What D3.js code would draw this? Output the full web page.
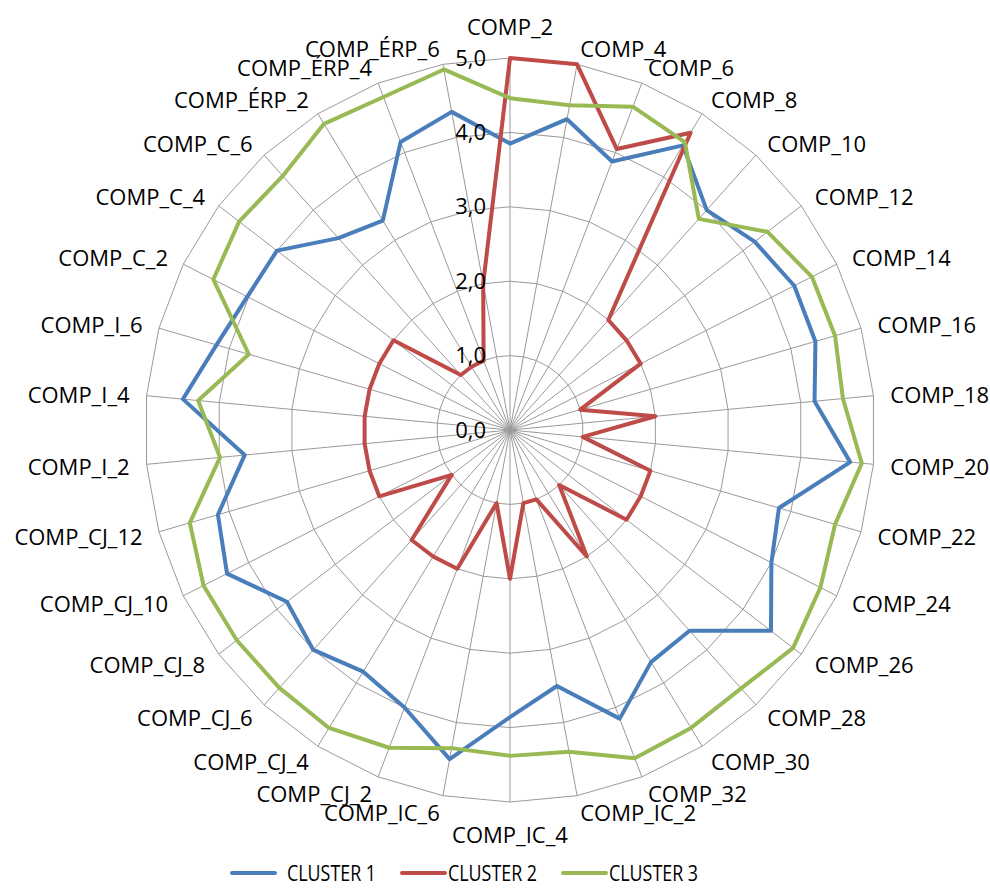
<!DOCTYPE html>
<html>
<head>
<meta charset="utf-8">
<script src="https://cdn.jsdelivr.net/npm/d3@7"></script>
<style>
  body { margin: 0; background: #fff; }
  text { font-family: "Open Sans", sans-serif; fill: #000; }
</style>
</head>
<body>
<svg id="chart"></svg>
<script>
const categories = ["COMP_2","COMP_4","COMP_6","COMP_8","COMP_10","COMP_12","COMP_14","COMP_16","COMP_18","COMP_20","COMP_22","COMP_24","COMP_26","COMP_28","COMP_30","COMP_32","COMP_IC_2","COMP_IC_4","COMP_IC_6","COMP_CJ_2","COMP_CJ_4","COMP_CJ_6","COMP_CJ_8","COMP_CJ_10","COMP_CJ_12","COMP_I_2","COMP_I_4","COMP_I_6","COMP_C_2","COMP_C_4","COMP_C_6","COMP_ÉRP_2","COMP_ÉRP_4","COMP_ÉRP_6"];

const cluster1 = [3.85,4.25,3.87,4.50,4.00,4.20,4.35,4.35,4.19,4.68,3.83,4.00,4.48,3.65,3.67,4.16,3.50,3.86,4.50,4.00,3.82,4.00,3.83,4.33,4.16,3.65,4.50,4.18,4.02,4.00,3.49,3.31,4.15,4.35];
const cluster2 = [5.00,5.00,4.05,4.70,2.00,2.00,2.00,1.00,2.00,1.00,2.00,2.00,2.00,1.00,2.00,1.00,1.00,2.00,1.00,2.00,2.00,2.00,1.00,2.00,2.00,2.00,2.00,2.00,2.00,2.00,1.00,1.00,1.00,2.00];
const cluster3 = [4.46,4.44,4.66,4.55,3.84,4.42,4.62,4.63,4.58,4.84,4.63,4.75,4.86,4.70,4.71,4.73,4.40,4.38,4.35,4.58,4.71,4.69,4.69,4.69,4.56,3.99,4.29,3.72,4.54,4.65,4.62,4.84,4.80,4.93];

const seriesNames = ["CLUSTER 1", "CLUSTER 2", "CLUSTER 3"];
const seriesColors = ["#4a7ebb", "#be4b48", "#98b954"];
const valueTicks = [0, 1, 2, 3, 4, 5];

const width = 990, height = 888;
const cx = 510, cy = 430;
const rx = 365, ry = 372;   // picture is a touch taller than wide
const fontSize = 22;

const svg = d3.select("#chart").attr("width", width).attr("height", height);

const angle = d3.scaleLinear().domain([0, categories.length]).range([0, 2 * Math.PI]);
const radius = d3.scaleLinear().domain([0, 5]).range([0, rx]);
const yStretch = ry / rx;

const plot = svg.append("g")
  .attr("transform", `translate(${cx},${cy}) scale(1,${yStretch})`);

const radial = d3.lineRadial()
  .angle((d, i) => angle(i))
  .radius(d => radius(d))
  .curve(d3.curveLinearClosed);

// rings
plot.selectAll(".ring")
  .data(valueTicks.filter(v => v > 0))
  .enter().append("path")
  .attr("class", "ring")
  .attr("d", v => radial(categories.map(() => v)))
  .attr("fill", "none")
  .attr("stroke", "#9a9a9a")
  .attr("stroke-width", 1)
  .attr("vector-effect", "non-scaling-stroke");

// spokes
plot.selectAll(".spoke")
  .data(categories)
  .enter().append("line")
  .attr("class", "spoke")
  .attr("x1", 0).attr("y1", 0)
  .attr("x2", (d, i) => radius(5) * Math.sin(angle(i)))
  .attr("y2", (d, i) => -radius(5) * Math.cos(angle(i)))
  .attr("stroke", "#9a9a9a")
  .attr("stroke-width", 1)
  .attr("vector-effect", "non-scaling-stroke");

// series
const series = [cluster1, cluster2, cluster3];
plot.selectAll(".series")
  .data(series)
  .enter().append("path")
  .attr("class", "series")
  .attr("d", d => radial(d))
  .attr("fill", "none")
  .attr("stroke", (d, i) => seriesColors[i])
  .attr("stroke-width", 4)
  .attr("stroke-linejoin", "round")
  .attr("vector-effect", "non-scaling-stroke");

// value axis labels
const fmt = d3.formatLocale({ decimal: ",", thousands: ".", grouping: [3], currency: ["", ""] }).format(".1f");
const yAxisScale = d3.scaleLinear().domain([0, 5]).range([cy, cy - ry]);
const yAxis = svg.append("g")
  .attr("transform", `translate(${cx},0)`)
  .call(d3.axisLeft(yAxisScale).tickValues(valueTicks).tickSize(0).tickPadding(24).tickFormat(fmt));
yAxis.select(".domain").remove();
yAxis.selectAll("text")
  .style("font-family", "\"Open Sans\", sans-serif")
  .style("font-size", fontSize + "px")
  .attr("fill", "#000");

// category labels
const gap = 17;
svg.append("g").selectAll("text")
  .data(categories)
  .enter().append("text")
  .each(function (d, i) {
    const a = angle(i);
    const s = Math.sin(a), c = Math.cos(a);
    const ex = cx + rx * s, ey = cy - ry * c;
    const t = d3.select(this);
    if (Math.abs(s) < 0.01) {
      t.attr("x", ex).attr("y", ey - c * (gap + 15)).attr("text-anchor", "middle");
    } else {
      t.attr("x", ex + gap * s).attr("y", ey - gap * c)
        .attr("text-anchor", s > 0 ? "start" : "end");
    }
  })
  .attr("dominant-baseline", "central")
  .style("font-size", fontSize + "px")
  .text(d => d);

// legend
const legendY = 873;
const legendX = [232, 402, 563];
const legend = svg.append("g").selectAll("g")
  .data(seriesNames)
  .enter().append("g")
  .attr("transform", (d, i) => `translate(${legendX[i]},${legendY})`);
legend.append("line")
  .attr("x1", 0).attr("x2", 43).attr("y1", 0).attr("y2", 0)
  .attr("stroke", (d, i) => seriesColors[i])
  .attr("stroke-width", 4)
  .attr("stroke-linecap", "round");
legend.append("text")
  .attr("x", (d, i) => i === 0 ? 55 : 46)
  .attr("y", 0)
  .attr("dominant-baseline", "central")
  .style("font-size", "21px")
  .attr("textLength", 89)
  .attr("lengthAdjust", "spacingAndGlyphs")
  .text(d => d);
</script>
</body>
</html>
